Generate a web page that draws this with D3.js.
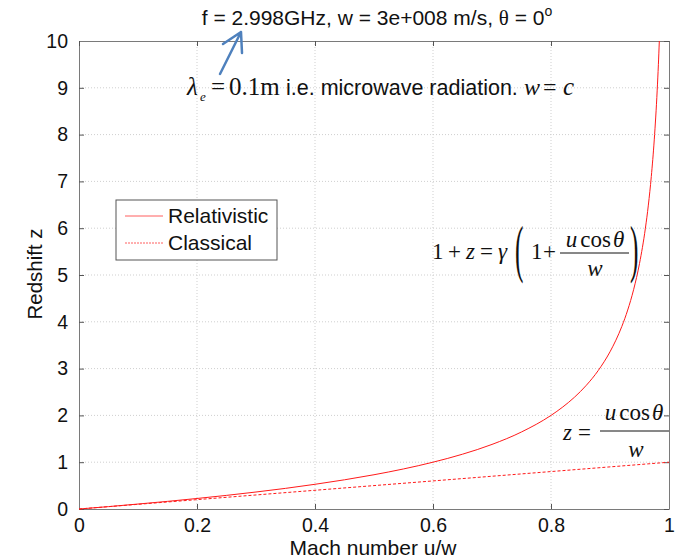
<!DOCTYPE html>
<html>
<head>
<meta charset="utf-8">
<script src="https://cdn.jsdelivr.net/npm/d3@7"></script>
<style>
  body { margin: 0; background: #fff; }
  svg { display: block; }
  text { font-family: "Liberation Sans", Arial, sans-serif; fill: #111; }
  .serif { font-family: "Liberation Serif", "Times New Roman", serif; }
</style>
</head>
<body>
<svg width="680" height="559"></svg>
<script>
// Mach number u/w and the redshift
const machRel = [0, 0.05, 0.1, 0.15, 0.2, 0.25, 0.3, 0.35, 0.4, 0.45, 0.5, 0.55, 0.6, 0.65, 0.7, 0.75,
  0.8, 0.82, 0.84, 0.86, 0.88, 0.9, 0.91, 0.92, 0.93, 0.94, 0.95, 0.96, 0.965, 0.97, 0.975, 0.98, 0.982, 0.9836];
const zRel = [0, 0.051, 0.106, 0.163, 0.225, 0.291, 0.363, 0.441, 0.528, 0.624, 0.732, 0.856, 1.0, 1.171, 1.38, 1.646,
  2.0, 2.18, 2.391, 2.645, 2.958, 3.359, 3.607, 3.899, 4.251, 4.686, 5.245, 6.0, 6.493, 7.104, 7.888, 8.95, 9.493, 10.0];
const machCls = [0, 0.2, 0.4, 0.6, 0.8, 1];
const zCls = [0, 0.2, 0.4, 0.6, 0.8, 1];

const xTicks = [0, 0.2, 0.4, 0.6, 0.8, 1];
const yTicks = [0, 1, 2, 3, 4, 5, 6, 7, 8, 9, 10];
const seriesNames = ["Relativistic", "Classical"];

const svg = d3.select("svg");
const pLeft = 79, pRight = 669, pTop = 41, pBottom = 509;
const red = "#ff1a1a";

var x = d3.scaleLinear().domain([0, 1]).range([pLeft, pRight]);
var y = d3.scaleLinear().domain([0, 10]).range([pBottom, pTop]);

// grid
const grid = svg.append("g").attr("stroke", "#cfcfcf").attr("stroke-dasharray", "1,2");
grid.selectAll(".gx").data(xTicks.slice(1, -1)).enter().append("line")
  .attr("x1", d => x(d)).attr("x2", d => x(d)).attr("y1", pTop).attr("y2", pBottom);
grid.selectAll(".gy").data(yTicks.slice(1, -1)).enter().append("line")
  .attr("x1", pLeft).attr("x2", pRight).attr("y1", d => y(d)).attr("y2", d => y(d));

// axes (ticks pointing in, mirrored on top/right like matlab)
const tickFont = 19.5;
const axB = svg.append("g").attr("transform", `translate(0,${pBottom})`)
  .call(d3.axisBottom(x).tickValues(xTicks).tickFormat(d3.format("")).tickSizeInner(-5).tickSizeOuter(0).tickPadding(9));
const axL = svg.append("g").attr("transform", `translate(${pLeft},0)`)
  .call(d3.axisLeft(y).tickValues(yTicks).tickSizeInner(-5).tickSizeOuter(0).tickPadding(9));
const axT = svg.append("g").attr("transform", `translate(0,${pTop})`)
  .call(d3.axisTop(x).tickValues(xTicks).tickFormat("").tickSizeInner(-5).tickSizeOuter(0));
const axR = svg.append("g").attr("transform", `translate(${pRight},0)`)
  .call(d3.axisRight(y).tickValues(yTicks).tickFormat("").tickSizeInner(-5).tickSizeOuter(0));
[axB, axL, axT, axR].forEach(a => {
  a.select(".domain").attr("stroke", "#7a7a7a");
  a.selectAll(".tick line").attr("stroke", "#555");
  a.selectAll("text").attr("font-size", tickFont).attr("font-family", "Liberation Sans, Arial, sans-serif").attr("fill", "#111");
});
axL.selectAll("text").attr("dx", "-0.1em");

// curves
const line = d3.line().x(d => x(d[0])).y(d => y(d[1]));
svg.append("path").datum(d3.zip(machCls, zCls)).attr("d", line)
  .attr("fill", "none").attr("stroke", red).attr("stroke-width", 1).attr("stroke-dasharray", "3,2");
svg.append("path").datum(d3.zip(machRel, zRel)).attr("d", line.curve(d3.curveMonotoneX))
  .attr("fill", "none").attr("stroke", red).attr("stroke-width", 1);

// axis labels and title
svg.append("text").attr("x", (pLeft + pRight) / 2 - 1).attr("y", 555).attr("text-anchor", "middle")
  .attr("font-size", 21).text("Mach number u/w");
svg.append("text").attr("transform", `translate(42,${(pTop + pBottom) / 2 - 1}) rotate(-90)`)
  .attr("text-anchor", "middle").attr("font-size", 20.5).text("Redshift z");
const title = svg.append("text").attr("x", 377).attr("y", 25).attr("text-anchor", "middle").attr("font-size", 21);
title.append("tspan").text("f = 2.998GHz, w = 3e+008 m/s, ");
title.append("tspan").attr("class", "serif").text("θ");
title.append("tspan").text(" = 0");
title.append("tspan").attr("font-size", 14).attr("dy", -9).text("o");

// legend
const lg = svg.append("g");
lg.append("rect").attr("x", 116).attr("y", 200).attr("width", 161).attr("height", 60)
  .attr("fill", "#fff").attr("stroke", "#555");
seriesNames.forEach((name, i) => {
  const ly = 216 + i * 27;
  lg.append("line").attr("x1", 125).attr("x2", 163).attr("y1", ly).attr("y2", ly)
    .attr("stroke", red).attr("stroke-opacity", 0.7)
    .attr("stroke-dasharray", i === 1 ? "2,1" : null);
  lg.append("text").attr("x", 168).attr("y", ly + 7).attr("font-size", 21).text(name);
});

// blue arrow
const blue = "#4f81bd";
svg.append("path").attr("d", "M220,74 L241,32 M223,44 L241,32 L242,53")
  .attr("fill", "none").attr("stroke", blue).attr("stroke-width", 2.5).attr("stroke-linecap", "round").attr("stroke-linejoin", "round");

// lambda annotation
const ann = svg.append("g");
function serif(g, xx, yy, s, size, italic) {
  return g.append("text").attr("class", "serif").attr("x", xx).attr("y", yy)
    .attr("font-size", size).attr("font-style", italic ? "italic" : null).text(s);
}
serif(ann, 187, 95, "λ", 25, true);
serif(ann, 200, 101, "e", 13, true);
serif(ann, 211, 95, "=", 25, false);
serif(ann, 229, 95, "0.1m", 25, false);
ann.append("text").attr("x", 286).attr("y", 95).attr("font-size", 21.5).text("i.e. microwave radiation.");
serif(ann, 524, 95, "w", 24, true);
serif(ann, 543, 95, "=", 24, false);
serif(ann, 563, 95, "c", 25, true);

// relativistic formula
const f1 = svg.append("g");
serif(f1, 432, 259, "1", 23, false);
serif(f1, 448, 259, "+", 23, false);
serif(f1, 466, 259, "z", 23, true);
serif(f1, 480, 259, "=", 23, false);
serif(f1, 498, 259, "γ", 23, true);
f1.append("text").attr("class", "serif").attr("font-size", 23).attr("font-weight", 300)
  .attr("transform", "translate(515,270) scale(1.1,2.75)").text("(");
serif(f1, 531, 259, "1", 23, false);
serif(f1, 543, 259, "+", 23, false);
const n1 = serif(f1, 595, 247, "", 23, false).attr("text-anchor", "middle");
n1.append("tspan").attr("font-style", "italic").text("u");
n1.append("tspan").attr("dx", 3).text("cos");
n1.append("tspan").attr("dx", 2).attr("font-style", "italic").text("θ");
f1.append("line").attr("x1", 560).attr("x2", 629).attr("y1", 253).attr("y2", 253).attr("stroke", "#111").attr("stroke-width", 1);
serif(f1, 595, 276, "w", 23, true).attr("text-anchor", "middle");
f1.append("text").attr("class", "serif").attr("font-size", 23).attr("font-weight", 300)
  .attr("transform", "translate(630,270) scale(1.1,2.75)").text(")");

// classical formula
const f2 = svg.append("g");
serif(f2, 563, 440, "z", 23, true);
serif(f2, 578, 440, "=", 23, false);
const n2 = serif(f2, 634, 420, "", 23, false).attr("text-anchor", "middle");
n2.append("tspan").attr("font-style", "italic").text("u");
n2.append("tspan").attr("dx", 3).text("cos");
n2.append("tspan").attr("dx", 2).attr("font-style", "italic").text("θ");
f2.append("line").attr("x1", 600).attr("x2", 669).attr("y1", 431).attr("y2", 431).attr("stroke", "#111").attr("stroke-width", 1);
serif(f2, 636, 457, "w", 23, true).attr("text-anchor", "middle");
</script>
</body>
</html>
